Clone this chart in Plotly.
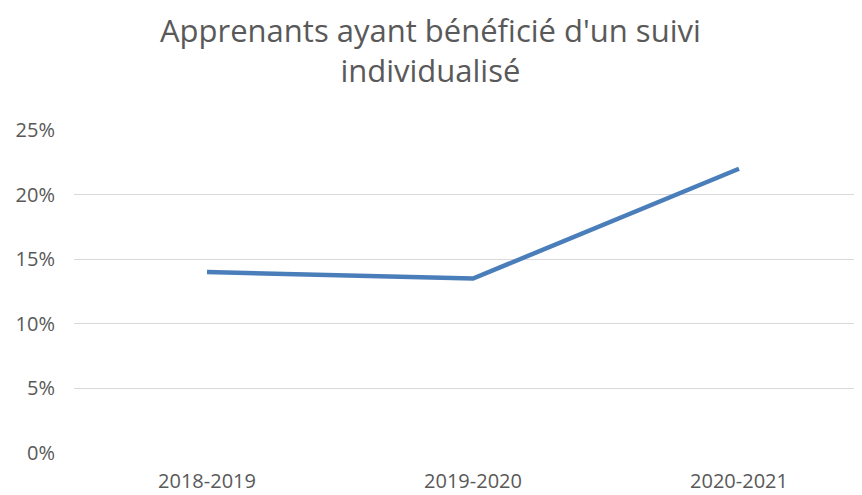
import plotly.graph_objects as go

categories = ["2018-2019", "2019-2020", "2020-2021"]
values = [0.14, 0.135, 0.22]
y_ticks = [0, 0.05, 0.10, 0.15, 0.20, 0.25]
y_tick_labels = ["0%", "5%", "10%", "15%", "20%", "25%"]
title = "Apprenants ayant bénéficié d'un suivi<br>individualisé"

fig = go.Figure()
fig.add_trace(go.Scatter(
    x=[0, 1, 2], y=values, mode="lines",
    line=dict(color="#4A7EBB", width=4.5),
    hoverinfo="skip", showlegend=False,
))

font_family = "Open Sans, Liberation Sans, sans-serif"
fig.add_annotation(
    text=title, xref="paper", yref="paper", x=0.452, y=1.247,
    xanchor="center", yanchor="middle", showarrow=False,
    font=dict(family=font_family, size=31, color="#595959"),
)
fig.update_layout(
    width=854, height=487,
    margin=dict(l=66, r=0, t=122, b=42),
    paper_bgcolor="white", plot_bgcolor="white",
    xaxis=dict(range=[-0.5, 2.4624], tickmode="array", tickvals=[0, 1, 2],
               ticktext=categories, showgrid=False, zeroline=False,
               showline=False, ticks="", ticklabelstandoff=14, automargin=False,
               tickfont=dict(family=font_family, size=20, color="#595959")),
    yaxis=dict(range=[0, 0.25], tickmode="array", tickvals=y_ticks,
               ticktext=y_tick_labels, showgrid=True, gridcolor="#D9D9D9",
               gridwidth=1.3, zeroline=False, showline=False, ticks="",
               ticklabelstandoff=18, automargin=False,
               tickfont=dict(family=font_family, size=20, color="#595959")),
)
fig.write_html("out.html")
